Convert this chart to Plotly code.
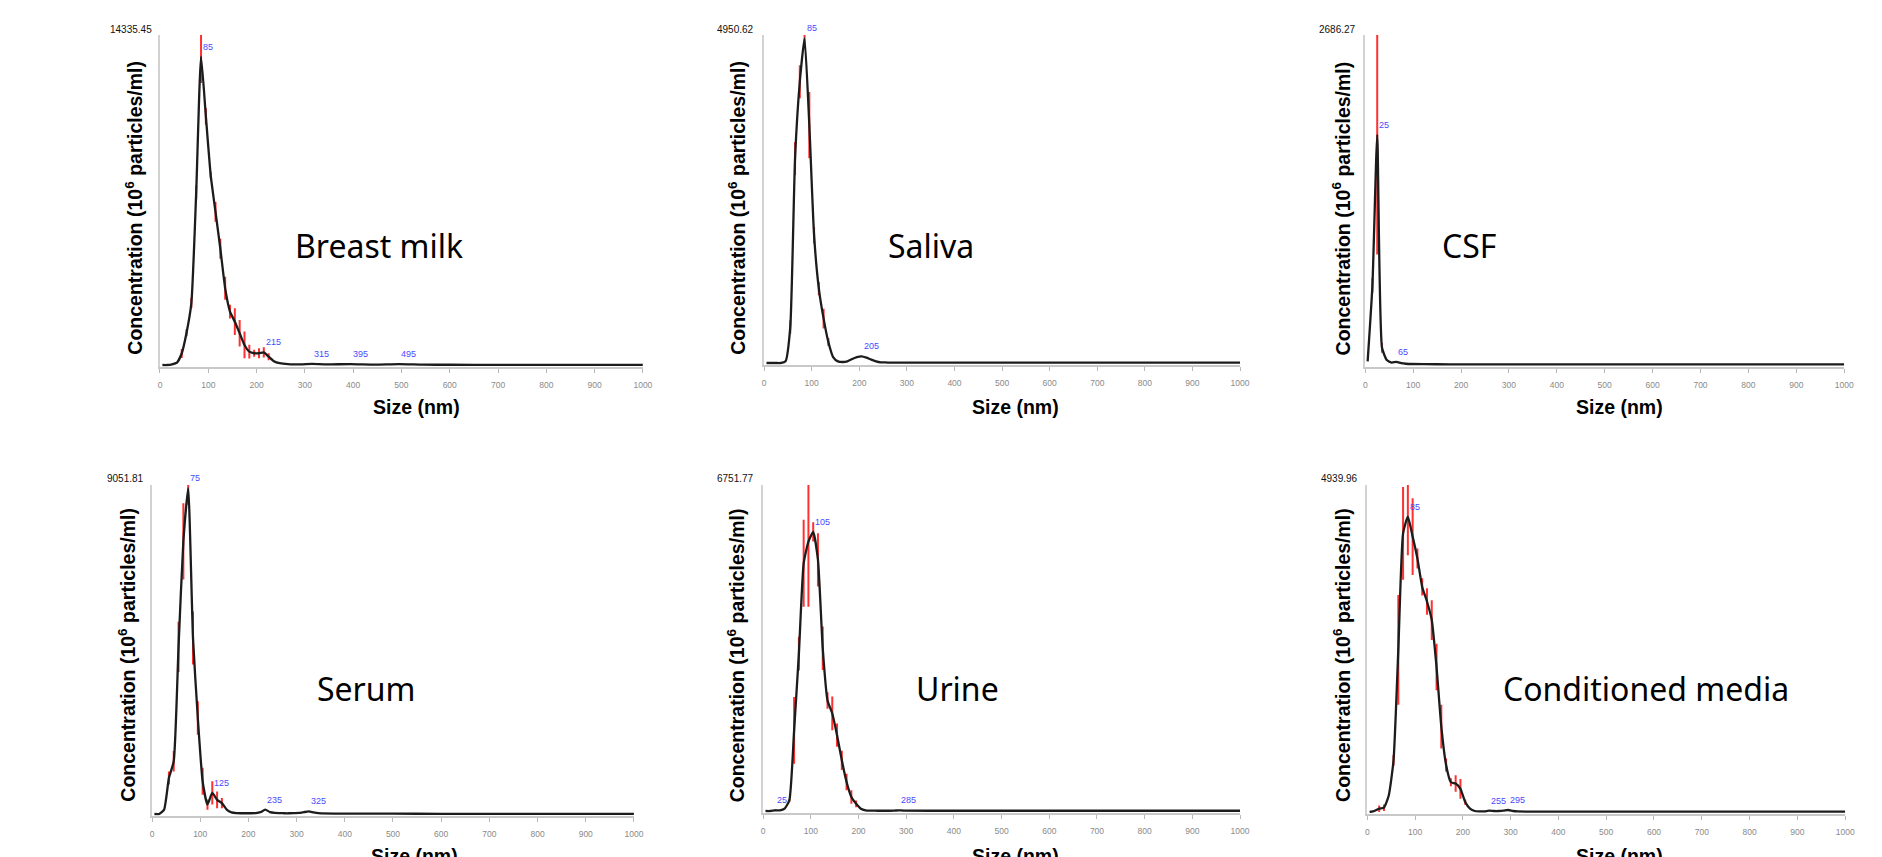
import plotly.graph_objects as go

# ---------------- data ----------------
x_ticks = [0, 100, 200, 300, 400, 500, 600, 700, 800, 900, 1000]

# Breast milk
bm_size = [5, 15, 25, 35, 45, 55, 65, 75, 85, 95, 105, 115, 125, 135, 145, 155, 165, 175, 185, 195,
           205, 215, 225, 235, 245, 255, 265, 275, 285, 295, 315, 345, 395, 445, 495, 545, 600, 700, 800, 900, 1000]
bm_conc = [0, 0, 30, 100, 500, 1400, 2700, 7500, 13400, 10800, 8250, 6650, 5050, 3330, 2320, 1880, 1380, 870, 580, 510,
           510, 550, 360, 175, 90, 60, 40, 30, 30, 30, 45, 25, 40, 20, 40, 15, 10, 8, 6, 5, 5]
bm_err = [0, 0, 0, 30, 200, 150, 220, 300, 1150, 360, 150, 430, 430, 500, 300, 580, 580, 580, 300, 150,
          220, 220, 150, 0, 0, 0, 0, 0, 0, 0, 0, 0, 0, 0, 0, 0, 0, 0, 0, 0, 0]
bm_max = 14335.45
bm_peaks = [85, 215, 315, 395, 495]

# Saliva
sa_size = [5, 15, 25, 35, 45, 55, 65, 75, 85, 95, 105, 115, 125, 135, 145, 155, 165, 175, 185, 195,
           205, 215, 225, 235, 245, 255, 265, 275, 285, 295, 400, 500, 600, 700, 800, 900, 1000]
sa_conc = [0, 0, 0, 0, 25, 544, 3087, 4245, 4900, 3590, 1929, 1123, 670, 317, 90, 25, 15, 25, 60, 90,
           100, 80, 50, 25, 10, 8, 6, 5, 5, 5, 5, 5, 5, 5, 5, 5, 5]
sa_err = [0, 0, 0, 0, 0, 100, 250, 250, 150, 500, 125, 100, 150, 60, 0, 0, 0, 0, 0, 0,
          0, 0, 0, 0, 0, 0, 0, 0, 0, 0, 0, 0, 0, 0, 0, 0, 0]
sa_max = 4950.62
sa_peaks = [85, 205]

# CSF
csf_size = [5, 15, 25, 35, 45, 55, 65, 75, 85, 95, 150, 200, 300, 400, 500, 600, 700, 800, 900, 1000]
csf_conc = [30, 650, 1874, 140, 40, 20, 25, 15, 10, 8, 6, 5, 5, 5, 5, 5, 5, 5, 5, 5]
csf_err_up = [0, 60, 812, 40, 0, 0, 0, 0, 0, 0, 0, 0, 0, 0, 0, 0, 0, 0, 0, 0]
csf_err_down = [0, 60, 975, 40, 0, 0, 0, 0, 0, 0, 0, 0, 0, 0, 0, 0, 0, 0, 0, 0]
csf_max = 2686.27
csf_peaks = [25, 65]

# Serum
se_size = [5, 15, 25, 35, 45, 55, 65, 75, 85, 95, 105, 115, 125, 135, 145, 155, 165, 175, 185, 195,
           205, 215, 225, 235, 245, 255, 265, 275, 285, 295, 305, 315, 325, 335, 345,
           400, 500, 600, 700, 800, 900, 1000]
se_conc = [0, 0, 120, 990, 1450, 4600, 7500, 8960, 4840, 2640, 900, 260, 580, 390, 300, 120, 46, 25, 20, 20,
           20, 25, 50, 120, 50, 30, 25, 20, 20, 25, 30, 50, 70, 45, 25,
           10, 8, 6, 5, 5, 5, 5]
se_err = [0, 0, 0, 180, 280, 690, 1050, 450, 730, 460, 370, 140, 320, 230, 140, 0, 0, 0, 0, 0,
          0, 0, 0, 0, 0, 0, 0, 0, 0, 0, 0, 0, 0, 0, 0,
          0, 0, 0, 0, 0, 0, 0]
se_max = 9051.81
se_peaks = [75, 125, 235, 325]

# Urine
ur_size = [5, 15, 25, 35, 45, 55, 65, 75, 85, 95, 105, 115, 125, 135, 145, 155, 165, 175, 185, 195,
           205, 215, 225, 235, 245, 255, 265, 275, 285, 295, 400, 500, 600, 700, 800, 900, 1000]
ur_conc = [0, 0, 15, 15, 50, 220, 1670, 3260, 5130, 5580, 5780, 5200, 3370, 2290, 2020, 1570, 1050, 600, 290, 150,
           48, 14, 8, 6, 5, 5, 5, 8, 15, 8, 5, 5, 5, 5, 5, 5, 5]
ur_err = [0, 0, 0, 0, 0, 30, 690, 350, 900, 1350, 200, 550, 450, 170, 350, 240, 200, 170, 140, 70,
          0, 0, 0, 0, 0, 0, 0, 0, 0, 0, 0, 0, 0, 0, 0, 0, 0]
ur_max = 6751.77
ur_peaks = [25, 105, 285]

# Conditioned media
cm_size = [5, 15, 25, 35, 45, 55, 65, 75, 85, 95, 105, 115, 125, 135, 145, 155, 165, 175, 185, 195,
           205, 215, 225, 235, 245, 255, 265, 275, 285, 295, 305, 315, 400, 500, 600, 700, 800, 900, 1000]
cm_conc = [0, 15, 50, 65, 250, 780, 2450, 4210, 4460, 4160, 3830, 3400, 3180, 2900, 2190, 1290, 710, 450, 430, 350,
           150, 50, 15, 10, 10, 20, 15, 15, 20, 30, 15, 8, 5, 5, 5, 5, 5, 5, 5]
cm_err = [0, 0, 50, 50, 0, 80, 830, 700, 580, 580, 150, 130, 200, 300, 350, 330, 100, 60, 125, 150,
          40, 0, 0, 0, 0, 0, 0, 0, 0, 0, 0, 0, 0, 0, 0, 0, 0, 0, 0]
cm_max = 4939.96
cm_peaks = [85, 255, 295]

names = ["Breast milk", "Saliva", "CSF", "Serum", "Urine", "Conditioned media"]
max_labels = ["14335.45", "4950.62", "2686.27", "9051.81", "6751.77", "4939.96"]

series = [
    (bm_size, bm_conc, bm_err, bm_err, bm_max, bm_peaks),
    (sa_size, sa_conc, sa_err, sa_err, sa_max, sa_peaks),
    (csf_size, csf_conc, csf_err_up, csf_err_down, csf_max, csf_peaks),
    (se_size, se_conc, se_err, se_err, se_max, se_peaks),
    (ur_size, ur_conc, ur_err, ur_err, ur_max, ur_peaks),
    (cm_size, cm_conc, cm_err, cm_err, cm_max, cm_peaks),
]

# ---------------- layout geometry (pixels) ----------------
W, H = 1882, 857
# x of 0 nm, x of 1000 nm, y of top (max), y of baseline
geom = [
    (159, 645, 35, 365),
    (767, 1246, 35, 363),
    (1372, 1854, 35, 365),
    (151, 636, 485, 814),
    (766, 1246, 485, 811),
    (1374, 1855, 485, 812),
]
# (max label right x, y), (y title x, y), (x title x, y), (name x, y)
text_pos = [
    ((153, 29), (132.5, 208), (417, 407), (379, 246)),
    ((759, 29), (739.5, 208), (1020, 407), (935, 246)),
    ((1365, 29), (1348, 208), (1628, 407), (1476, 246)),
    ((144.5, 479), (125.5, 655), (415, 856), (367, 688)),
    ((758.5, 479), (739, 655), (1020, 856), (962, 688)),
    ((1366.5, 479), (1348.5, 655), (1628, 856), (1655, 688)),
]

NEG = 0.005
fig = go.Figure()
layout = dict(width=W, height=H, margin=dict(l=0, r=0, t=0, b=0),
              paper_bgcolor="white", plot_bgcolor="white", showlegend=False)
annotations = []

for i, ((size, conc, ep, em, ymax, peaks), (x0, x1, top, base), tp) in enumerate(zip(series, geom, text_pos)):
    n = i + 1
    sfx = "" if n == 1 else str(n)
    xname, yname = "x" + sfx, "y" + sfx
    bottom = base + NEG * (base - top)
    layout["xaxis" + sfx] = dict(
        domain=[x0 / W, x1 / W], anchor=yname, range=[0, 1000],
        tickvals=x_ticks, ticks="outside", ticklen=4, tickwidth=1, tickcolor="#b8b8b8",
        tickfont=dict(family="Liberation Sans, Arial", size=8.5, color="#8a8a8a"),
        ticklabelstandoff=5,
        showline=True, linecolor="#c8c8c8", linewidth=2,
        showgrid=False, zeroline=False, fixedrange=True)
    layout["yaxis" + sfx] = dict(
        domain=[1 - bottom / H, 1 - top / H], anchor=xname, range=[-NEG * ymax, ymax],
        showticklabels=False, ticks="", showline=True, linecolor="#d2d2d2", linewidth=2,
        showgrid=False, zeroline=False, fixedrange=True)

    fig.add_trace(go.Scatter(
        x=size, y=conc, mode="markers", xaxis=xname, yaxis=yname,
        marker=dict(size=2, color="rgba(0,0,0,0)"),
        error_y=dict(type="data", symmetric=False, array=ep, arrayminus=em,
                     color="rgba(255,25,25,0.9)", thickness=2, width=0),
        cliponaxis=False, hoverinfo="skip"))
    fig.add_trace(go.Scatter(
        x=size, y=conc, mode="lines", xaxis=xname, yaxis=yname,
        line=dict(color="#1c1c1c", width=2.3, shape="spline", smoothing=0.5),
        hoverinfo="skip"))

    for p in peaks:
        annotations.append(dict(
            x=p, y=conc[size.index(p)], xref=xname, yref=yname, text=str(p), showarrow=False,
            xanchor="left", yanchor="bottom", yshift=3,
            font=dict(family="Liberation Sans, Arial", size=9, color="#4a4aff")))

    (mx, my), (tx, ty), (sx, sy), (nx, ny) = tp
    annotations.append(dict(x=mx / W, y=1 - my / H, xref="paper", yref="paper", text=max_labels[i],
                            showarrow=False, xanchor="right", yanchor="middle",
                            font=dict(family="Liberation Sans, Arial", size=10, color="#111")))
    annotations.append(dict(x=tx / W, y=1 - ty / H, xref="paper", yref="paper",
                            text="<b>Concentration (10<sup>6</sup> particles/ml)</b>", textangle=-90,
                            showarrow=False, xanchor="center", yanchor="middle",
                            font=dict(family="Liberation Sans, Arial", size=19.5, color="#000")))
    annotations.append(dict(x=sx / W, y=1 - sy / H, xref="paper", yref="paper", text="<b>Size (nm)</b>",
                            showarrow=False, xanchor="center", yanchor="middle",
                            font=dict(family="Liberation Sans, Arial", size=19.5, color="#000")))
    annotations.append(dict(x=nx / W, y=1 - ny / H, xref="paper", yref="paper", text=names[i],
                            showarrow=False, xanchor="center", yanchor="middle",
                            font=dict(family="Noto Sans", size=32, color="#000")))

layout["annotations"] = annotations
fig.update_layout(**layout)
fig.write_html("out.html", config={"displayModeBar": False},
               post_script="document.body.style.margin='0px';document.body.style.overflow='hidden';")
